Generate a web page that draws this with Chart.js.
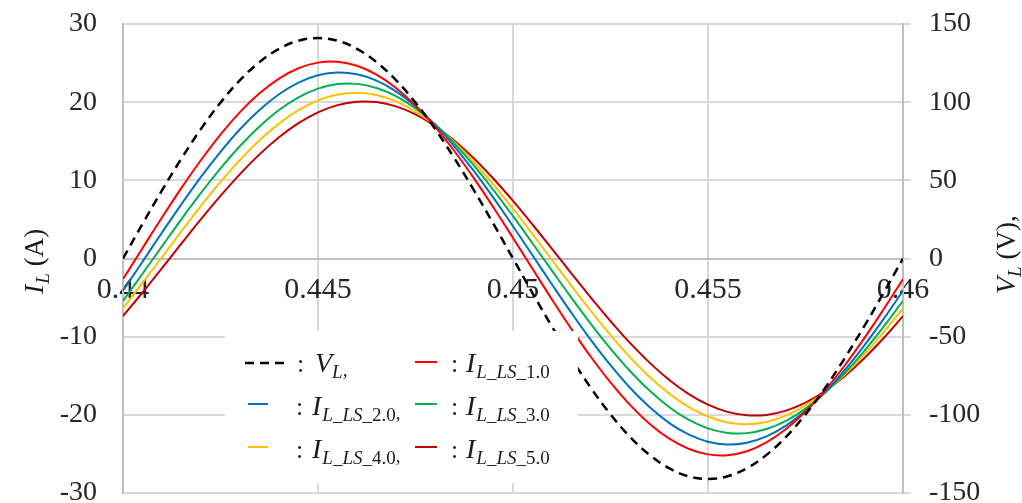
<!DOCTYPE html>
<html>
<head>
<meta charset="utf-8">
<script src="https://cdn.jsdelivr.net/npm/chart.js@4.4.1/dist/chart.umd.min.js"></script>
<style>
  body { margin: 0; background: #fff; }
  canvas { display: block; }
</style>
</head>
<body>
<canvas id="waveChart" width="1022" height="503"></canvas>
<script>
// time (s)
const times = [0.44, 0.4405, 0.441, 0.4415, 0.442, 0.4425, 0.443, 0.4435, 0.444, 0.4445,
  0.445, 0.4455, 0.446, 0.4465, 0.447, 0.4475, 0.448, 0.4485, 0.449, 0.4495,
  0.45, 0.4505, 0.451, 0.4515, 0.452, 0.4525, 0.453, 0.4535, 0.454, 0.4545,
  0.455, 0.4555, 0.456, 0.4565, 0.457, 0.4575, 0.458, 0.4585, 0.459, 0.4595, 0.46];

// V_L (V), right axis
const vL = [0, 22.1, 43.6, 64.0, 82.9, 99.7, 114.1, 125.6, 134.1, 139.3,
  141.0, 139.3, 134.1, 125.6, 114.1, 99.7, 82.9, 64.0, 43.6, 22.1,
  0, -22.1, -43.6, -64.0, -82.9, -99.7, -114.1, -125.6, -134.1, -139.3,
  -141.0, -139.3, -134.1, -125.6, -114.1, -99.7, -82.9, -64.0, -43.6, -22.1, 0];

// I_L (A), left axis
const iLS10 = [-2.63, 1.32, 5.24, 9.03, 12.60, 15.86, 18.73, 21.13, 23.02, 24.34,
  25.06, 25.16, 24.65, 23.52, 21.82, 19.58, 16.86, 13.72, 10.25, 6.52,
  2.63, -1.32, -5.24, -9.03, -12.60, -15.86, -18.73, -21.13, -23.02, -24.34,
  -25.06, -25.16, -24.65, -23.52, -21.82, -19.58, -16.86, -13.72, -10.25, -6.52, -2.63];
const iLS20 = [-4.13, -0.41, 3.32, 6.96, 10.44, 13.65, 16.54, 19.01, 21.02, 22.51,
  23.44, 23.80, 23.57, 22.76, 21.39, 19.49, 17.12, 14.32, 11.17, 7.75,
  4.13, 0.41, -3.32, -6.96, -10.44, -13.65, -16.54, -19.01, -21.02, -22.51,
  -23.44, -23.80, -23.57, -22.76, -21.39, -19.49, -17.12, -14.32, -11.17, -7.75, -4.13];
const iLS30 = [-5.42, -1.95, 1.56, 5.04, 8.39, 11.53, 14.39, 16.90, 18.99, 20.62,
  21.73, 22.31, 22.34, 21.82, 20.77, 19.20, 17.16, 14.69, 11.87, 8.75,
  5.42, 1.95, -1.56, -5.04, -8.39, -11.53, -14.39, -16.90, -18.99, -20.62,
  -21.73, -22.31, -22.34, -21.82, -20.77, -19.20, -17.16, -14.69, -11.87, -8.75, -5.42];
const iLS40 = [-6.37, -3.13, 0.19, 3.50, 6.73, 9.79, 12.61, 15.12, 17.26, 18.98,
  20.22, 20.97, 21.20, 20.91, 20.10, 18.80, 17.04, 14.86, 12.31, 9.45,
  6.37, 3.13, -0.19, -3.50, -6.73, -9.79, -12.61, -15.12, -17.26, -18.98,
  -20.22, -20.97, -21.20, -20.91, -20.10, -18.80, -17.04, -14.86, -12.31, -9.45, -6.37];
const iLS50 = [-7.37, -4.35, -1.23, 1.92, 5.03, 8.01, 10.80, 13.32, 15.51, 17.32,
  18.70, 19.62, 20.06, 20.01, 19.46, 18.43, 16.95, 15.06, 12.79, 10.20,
  7.37, 4.35, 1.23, -1.92, -5.03, -8.01, -10.80, -13.32, -15.51, -17.32,
  -18.70, -19.62, -20.06, -20.01, -19.46, -18.43, -16.95, -15.06, -12.79, -10.20, -7.37];

const xTickLabels = ['0.44', '0.445', '0.45', '0.455', '0.46'];

const SERIF = '"Liberation Serif", "Times New Roman", serif';
const pts = arr => times.map((t, i) => ({ x: t, y: arr[i] }));

function line(data, color, axis, dash) {
  return {
    data: pts(data), yAxisID: axis, borderColor: color, borderWidth: dash ? 2.5 : 2,
    borderDash: dash || [], pointRadius: 0, fill: false, tension: 0.4
  };
}

// draws a run of text pieces along one baseline
function drawRich(ctx, parts, x, y) {
  ctx.textBaseline = 'alphabetic';
  ctx.textAlign = 'left';
  for (const p of parts) {
    ctx.font = p.font;
    ctx.fillText(p.t, x, y + (p.dy || 0));
    x += ctx.measureText(p.t).width + (p.gap || 0);
  }
}

const big = 'italic 28px ' + SERIF;
const up = '27px ' + SERIF;
const sub = 'italic 19px ' + SERIF;
const subUp = '19px ' + SERIF;

const overlay = {
  id: 'overlay',
  afterDatasetsDraw(chart) {
    const ctx = chart.ctx;
    ctx.save();
    // legend box
    ctx.fillStyle = '#fff';
    ctx.fillRect(225, 331, 353, 152);

    const sample = (x1, x2, y, color, dash) => {
      ctx.beginPath();
      ctx.setLineDash(dash || []);
      ctx.strokeStyle = color;
      ctx.lineWidth = dash ? 2.5 : 2;
      ctx.moveTo(x1, y);
      ctx.lineTo(x2, y);
      ctx.stroke();
      ctx.setLineDash([]);
    };
    ctx.fillStyle = '#1a1a1a';
    const colon = (x, y) => drawRich(ctx, [{ t: ':', font: '26px ' + SERIF }], x, y);
    const iItem = (x, y, num, comma) => {
      const parts = [
        { t: 'I', font: big, gap: 1 },
        { t: 'L_LS_', font: sub, dy: 6 },
        { t: num, font: subUp, dy: 6 }
      ];
      if (comma) parts.push({ t: ',', font: subUp, dy: 4 });
      drawRich(ctx, parts, x, y);
    };

    sample(245, 287, 363, '#000', [9, 6]);
    colon(297, 372);
    drawRich(ctx, [{ t: 'V', font: big }, { t: 'L', font: sub, dy: 6 }, { t: ',', font: subUp, dy: 4 }], 315, 372);

    sample(248, 268, 404, '#0070C0');
    colon(296, 415);
    iItem(312, 415, '2.0', true);

    sample(248, 268, 447, '#FFC000');
    colon(296, 458);
    iItem(312, 458, '4.0', true);

    sample(415, 437, 362, '#FF0000');
    colon(451, 372);
    iItem(466, 372, '1.0', false);

    sample(415, 437, 404, '#00B050');
    colon(451, 415);
    iItem(466, 415, '3.0', false);

    sample(415, 437, 447, '#C00000');
    colon(451, 458);
    iItem(466, 458, '5.0', false);

    // axis titles, both read bottom to top
    ctx.translate(43, 294);
    ctx.rotate(-Math.PI / 2);
    drawRich(ctx, [{ t: 'I', font: big, gap: 1 }, { t: 'L', font: sub, dy: 6 }, { t: ' (A)', font: up }], 0, 0);
    ctx.setTransform(1, 0, 0, 1, 0, 0);
    ctx.translate(1015, 294);
    ctx.rotate(-Math.PI / 2);
    drawRich(ctx, [{ t: 'V', font: big }, { t: 'L', font: sub, dy: 6 }, { t: ' (V)', font: up }, { t: ',', font: up }], 0, 0);
    ctx.restore();
  }
};

const ctx = document.getElementById('waveChart').getContext('2d');

new Chart(ctx, {
  type: 'line',
  data: {
    datasets: [
      line(vL, '#000000', 'y2', [9, 6]),
      line(iLS10, '#FF0000', 'y'),
      line(iLS20, '#0070C0', 'y'),
      line(iLS30, '#00B050', 'y'),
      line(iLS40, '#FFC000', 'y'),
      line(iLS50, '#C00000', 'y')
    ]
  },
  options: {
    responsive: false,
    animation: false,
    devicePixelRatio: 1,
    layout: { padding: { top: 24, bottom: 10, left: 0, right: 0 } },
    plugins: { legend: { display: false }, tooltip: { enabled: false } },
    scales: {
      x: {
        type: 'linear', position: { y: 0 }, min: 0.44, max: 0.46,
        ticks: {
          stepSize: 0.005, padding: 14, color: '#262626', font: { family: SERIF, size: 30 },
          maxRotation: 0,
          callback: (v, i) => xTickLabels[i]
        },
        grid: { color: '#d9d9d9', lineWidth: 2, drawTicks: false },
        border: { color: '#bfbfbf', width: 2 },
        afterFit: s => { s.paddingLeft = 0; s.paddingRight = 0; }
      },
      y: {
        position: 'left', min: -30, max: 30,
        ticks: { stepSize: 10, padding: 26, color: '#262626', font: { family: SERIF, size: 28 } },
        grid: { color: '#d9d9d9', lineWidth: 2, drawTicks: false },
        border: { color: '#bfbfbf', width: 2 },
        afterFit: s => { s.width = 123; s.paddingTop = 0; s.paddingBottom = 0; }
      },
      y2: {
        position: 'right', min: -150, max: 150,
        ticks: { stepSize: 50, padding: 18, color: '#262626', font: { family: SERIF, size: 28 } },
        grid: { drawOnChartArea: false, drawTicks: true, tickLength: 8, color: '#d9d9d9', lineWidth: 2 },
        border: { color: '#bfbfbf', width: 2 },
        afterFit: s => { s.width = 119; s.paddingTop = 0; s.paddingBottom = 0; }
      }
    }
  },
  plugins: [overlay]
});
</script>
</body>
</html>
